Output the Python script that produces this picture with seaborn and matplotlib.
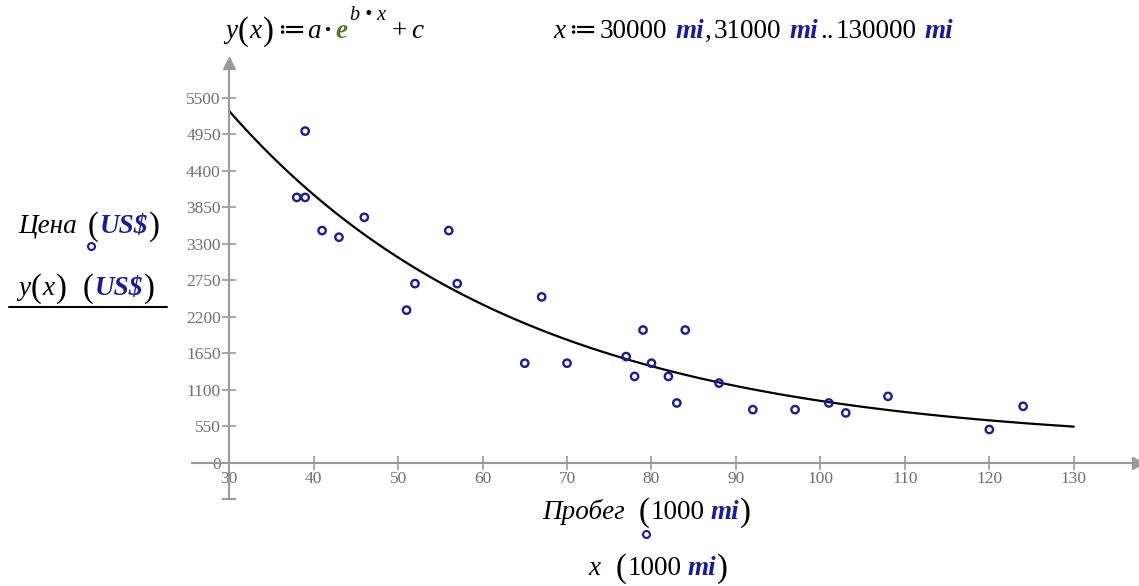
import numpy as np
import pandas as pd
import matplotlib
matplotlib.use("Agg")
import matplotlib.pyplot as plt
import seaborn as sns

# mileage (1000 mi) and price (US$)
mileage = [38, 39, 39, 41, 43, 46, 51, 52, 56, 57, 65, 67, 70, 77, 78, 79, 80,
           82, 83, 84, 88, 92, 97, 101, 103, 108, 120, 124]
price = [4000, 4000, 5000, 3500, 3400, 3700, 2300, 2700, 3500, 2700, 1500, 2500,
         1500, 1600, 1300, 2000, 1500, 1300, 900, 2000, 1200, 800, 800, 900, 750,
         1000, 500, 850]

# fitted model y(x) = a*e^(b*x) + c, x := 30 .. 130 (1000 mi)
a, b, c = 11966.0, -0.02881, 261.0
x_range = np.arange(30, 131, 1)

y_ticks = [0, 550, 1100, 1650, 2200, 2750, 3300, 3850, 4400, 4950, 5500]
x_ticks = [30, 40, 50, 60, 70, 80, 90, 100, 110, 120, 130]

df = pd.DataFrame({"mileage": mileage, "price": price})
curve = pd.DataFrame({"x": x_range, "y": a * np.exp(b * x_range) + c})

sns.set_style("white")
plt.rcParams["font.family"] = ["Liberation Serif", "DejaVu Serif"]

W, H = 1139, 586
fig = plt.figure(figsize=(W / 100, H / 100), dpi=100)
ax = fig.add_axes([192 / W, (H - 499) / H, (1138 - 192) / W, (499 - 63) / H])

grey = "#9a9a9a"
blue = "#1a1a9c"
green = "#4f7a2a"

sns.lineplot(data=curve, x="x", y="y", color="black", lw=1.6, ax=ax)
sns.scatterplot(data=df, x="mileage", y="price", ax=ax, s=28, marker="o",
                facecolor="none", edgecolor=blue, linewidth=1.7, zorder=3)

ax.set_xlim(25.6, 137.6)
ax.set_ylim(-548, 6027)
ax.set_xlabel("")
ax.set_ylabel("")
for s in ["top", "right"]:
    ax.spines[s].set_visible(False)
ax.spines["left"].set_position(("data", 30))
ax.spines["bottom"].set_position(("data", 0))
for s in ["left", "bottom"]:
    ax.spines[s].set_color(grey)
    ax.spines[s].set_linewidth(1.5)
ax.set_xticks(x_ticks)
ax.set_yticks(y_ticks)
ax.tick_params(left=True, bottom=True, direction="inout", length=10, width=1.2,
               color=grey, labelcolor="#6f6f6f", labelsize=12.5)
ax.tick_params(axis="x", pad=1)
ax.tick_params(axis="y", pad=1)
ax.plot(1, 0, ">", color=grey, ms=8, transform=ax.get_yaxis_transform(), clip_on=False)
ax.plot(30, 1, "^", color=grey, ms=8, transform=ax.get_xaxis_transform(), clip_on=False)
ax.plot(30, 0, "_", color=grey, ms=10, mew=1.5, transform=ax.get_xaxis_transform(),
        clip_on=False)

renderer = fig.canvas.get_renderer()


def rich(x, y, pieces):
    # pieces: (text, size, color, style, weight, dy, gap)
    for s, size, col, style, weight, dy, gap in pieces:
        t = fig.text(x / W, 1 - (y + dy) / H, s, fontsize=size, color=col,
                     style=style, weight=weight, va="baseline", ha="left")
        x += t.get_window_extent(renderer).width + gap
    return x


K = "black"
fs = 19.5
P = fs + 4
# top formulas
rich(225, 38, [
    ("y", fs, K, "italic", "normal", 0, 1),
    ("(", P, K, "normal", "normal", 2, 1),
    ("x", fs, K, "italic", "normal", 0, 1),
    (")", P, K, "normal", "normal", 2, 3),
    ("\u2254", fs, K, "normal", "normal", 0, 3),
    ("a", fs, K, "italic", "normal", 0, 4),
    ("\u2022", fs - 7, K, "normal", "normal", -3, 4),
    ("e", fs, green, "italic", "bold", 0, 3),
    ("b \u2022 x", fs - 5, K, "italic", "normal", -18, 5),
    ("+", fs, K, "normal", "normal", 0, 4),
    ("c", fs, K, "italic", "normal", 0, 0),
])
rich(553, 38, [
    ("x", fs, K, "italic", "normal", 0, 3),
    ("\u2254", fs, K, "normal", "normal", 0, 4),
    ("30000", fs, K, "normal", "normal", 0, 8),
    ("mi", fs, blue, "italic", "bold", 0, 1),
    (",", fs, K, "normal", "normal", 0, 2),
    ("31000", fs, K, "normal", "normal", 0, 8),
    ("mi", fs, blue, "italic", "bold", 0, 2),
    ("..", fs, K, "normal", "normal", 0, 2),
    ("130000", fs, K, "normal", "normal", 0, 8),
    ("mi", fs, blue, "italic", "bold", 0, 0),
])

# y label
rich(18, 233, [
    ("\u0426\u0435\u043d\u0430", fs, K, "italic", "normal", 0, 11),
    ("(", P, K, "normal", "normal", 2, 1),
    ("US$", fs, blue, "italic", "bold", 0, 1),
    (")", P, K, "normal", "normal", 2, 0),
])
fig.add_artist(plt.Line2D([91 / W], [1 - 246 / H], marker="o", ms=5, mfc="none",
                          mec=blue, mew=1.5))
rich(18, 295, [
    ("y", fs, K, "italic", "normal", 0, 1),
    ("(", P, K, "normal", "normal", 2, 1),
    ("x", fs, K, "italic", "normal", 0, 1),
    (")", P, K, "normal", "normal", 2, 16),
    ("(", P, K, "normal", "normal", 2, 1),
    ("US$", fs, blue, "italic", "bold", 0, 1),
    (")", P, K, "normal", "normal", 2, 0),
])
fig.add_artist(plt.Line2D([9 / W, 167 / W], [1 - 307 / H, 1 - 307 / H], color=K, lw=1.5))

# x label
rich(542, 519, [
    ("\u041f\u0440\u043e\u0431\u0435\u0433", fs, K, "italic", "normal", 0, 14),
    ("(", P, K, "normal", "normal", 2, 1),
    ("1000", fs, K, "normal", "normal", 0, 6),
    ("mi", fs, blue, "italic", "bold", 0, 1),
    (")", P, K, "normal", "normal", 2, 0),
])
fig.add_artist(plt.Line2D([646 / W], [1 - 534 / H], marker="o", ms=5, mfc="none",
                          mec=blue, mew=1.5))
rich(588, 575, [
    ("x", fs, K, "italic", "normal", 0, 16),
    ("(", P, K, "normal", "normal", 2, 1),
    ("1000", fs, K, "normal", "normal", 0, 6),
    ("mi", fs, blue, "italic", "bold", 0, 1),
    (")", P, K, "normal", "normal", 2, 0),
])

fig.savefig("out.png", dpi=100)
